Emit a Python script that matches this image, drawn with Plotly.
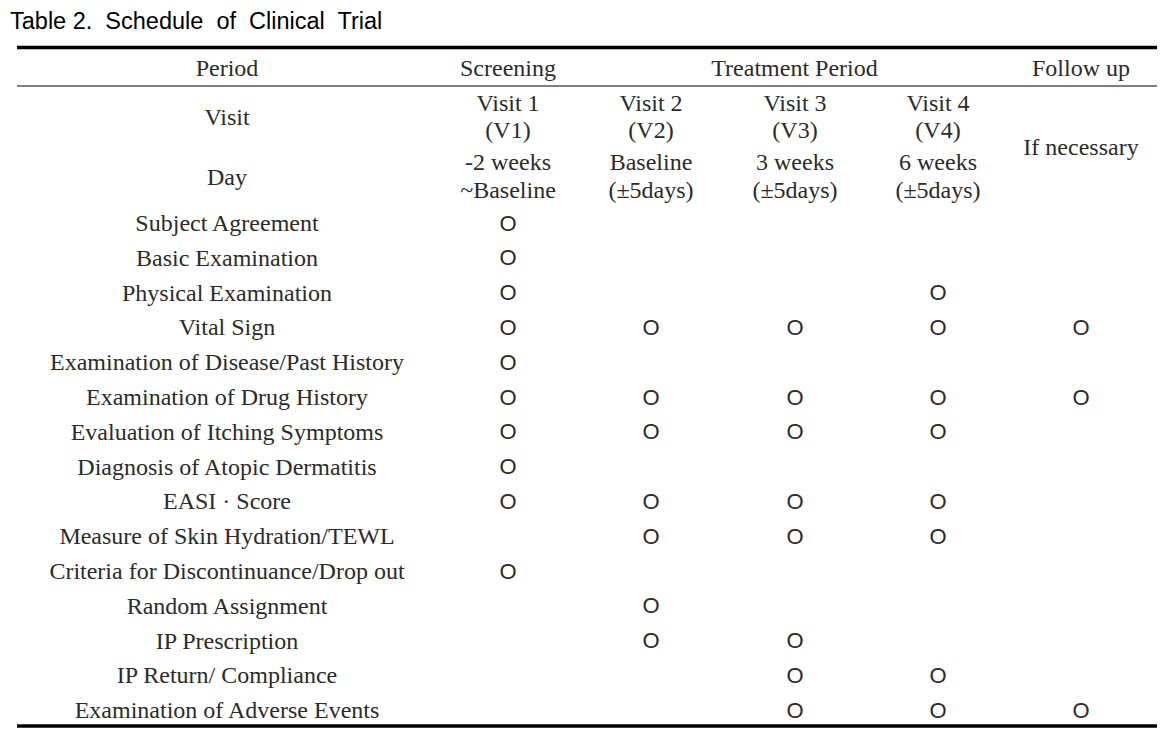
import plotly.graph_objects as go

# ---- data ----
title = "Table 2.  Schedule  of  Clinical  Trial"
period_labels = ["Screening", "Treatment Period", "Follow up"]
visit_line1 = ["Visit 1", "Visit 2", "Visit 3", "Visit 4"]
visit_line2 = ["(V1)", "(V2)", "(V3)", "(V4)"]
day_line1 = ["-2 weeks", "Baseline", "3 weeks", "6 weeks"]
day_line2 = ["~Baseline", "(±5days)", "(±5days)", "(±5days)"]
follow_label = "If necessary"
activities = [
    "Subject Agreement",
    "Basic Examination",
    "Physical Examination",
    "Vital Sign",
    "Examination of Disease/Past History",
    "Examination of Drug History",
    "Evaluation of Itching Symptoms",
    "Diagnosis of Atopic Dermatitis",
    "EASI · Score",
    "Measure of Skin Hydration/TEWL",
    "Criteria for Discontinuance/Drop out",
    "Random Assignment",
    "IP Prescription",
    "IP Return/ Compliance",
    "Examination of Adverse Events",
]
# columns: 0=V1, 1=V2, 2=V3, 3=V4, 4=Follow up
schedule = [
    [1, 0, 0, 0, 0],
    [1, 0, 0, 0, 0],
    [1, 0, 0, 1, 0],
    [1, 1, 1, 1, 1],
    [1, 0, 0, 0, 0],
    [1, 1, 1, 1, 1],
    [1, 1, 1, 1, 0],
    [1, 0, 0, 0, 0],
    [1, 1, 1, 1, 0],
    [0, 1, 1, 1, 0],
    [1, 0, 0, 0, 0],
    [0, 1, 0, 0, 0],
    [0, 1, 1, 0, 0],
    [0, 0, 1, 1, 0],
    [0, 0, 1, 1, 1],
]

# ---- layout geometry (page pixel coordinates) ----
W, H = 1173, 732
OFF = 8  # browser body margin
label_x = 227
col_x = [508, 651, 795, 938, 1081]
row_y0, row_dy = 225, 34.8
left, right = 17, 1157
serif = "Liberation Serif"
fs = 24
color = "#2b2b2b"


def text_trace(xs, ys, texts, family=serif, size=fs):
    return go.Scatter(x=xs, y=ys, mode="text", text=texts, textposition="middle center",
                      textfont=dict(family=family, size=size, color=color),
                      showlegend=False, hoverinfo="skip")


fig = go.Figure()

# rules
for y, w in [(47.5, 3.5), (86, 1.2), (726, 3.5)]:
    fig.add_trace(go.Scatter(x=[left, right], y=[y, y], mode="lines",
                             line=dict(color="black", width=w), hoverinfo="skip", showlegend=False))

# header row
fig.add_trace(text_trace([label_x, col_x[0], (col_x[1] + col_x[3]) / 2, col_x[4]],
                         [70] * 4, ["Period"] + period_labels))

# visit / day rows
vcols = col_x[:4]
fig.add_trace(text_trace([label_x, label_x, col_x[4]], [119, 179, 149],
                         ["Visit", "Day", follow_label]))
fig.add_trace(text_trace(vcols, [105] * 4, visit_line1))
fig.add_trace(text_trace(vcols, [132] * 4, visit_line2))
fig.add_trace(text_trace(vcols, [164] * 4, day_line1))
fig.add_trace(text_trace(vcols, [192] * 4, day_line2))

# activity labels
row_ys = [row_y0 + i * row_dy for i in range(len(activities))]
fig.add_trace(text_trace([label_x] * len(activities), row_ys, activities))

# marks
mx, my = [], []
for i, r in enumerate(schedule):
    for j, v in enumerate(r):
        if v:
            mx.append(col_x[j]); my.append(row_ys[i])
fig.add_trace(text_trace(mx, my, ["O"] * len(mx), family="Liberation Sans", size=22))

fig.add_annotation(x=8, y=21, xref="x", yref="y", text=title, showarrow=False,
                   xanchor="left", yanchor="middle",
                   font=dict(family="Liberation Sans", size=23.5, color="black"))

fig.update_layout(
    width=W - OFF, height=H - OFF, margin=dict(l=0, r=0, t=0, b=0),
    paper_bgcolor="white", plot_bgcolor="white",
    xaxis=dict(range=[OFF, W], visible=False, fixedrange=True),
    yaxis=dict(range=[H, OFF], visible=False, fixedrange=True),
)
fig.write_html("out.html")
